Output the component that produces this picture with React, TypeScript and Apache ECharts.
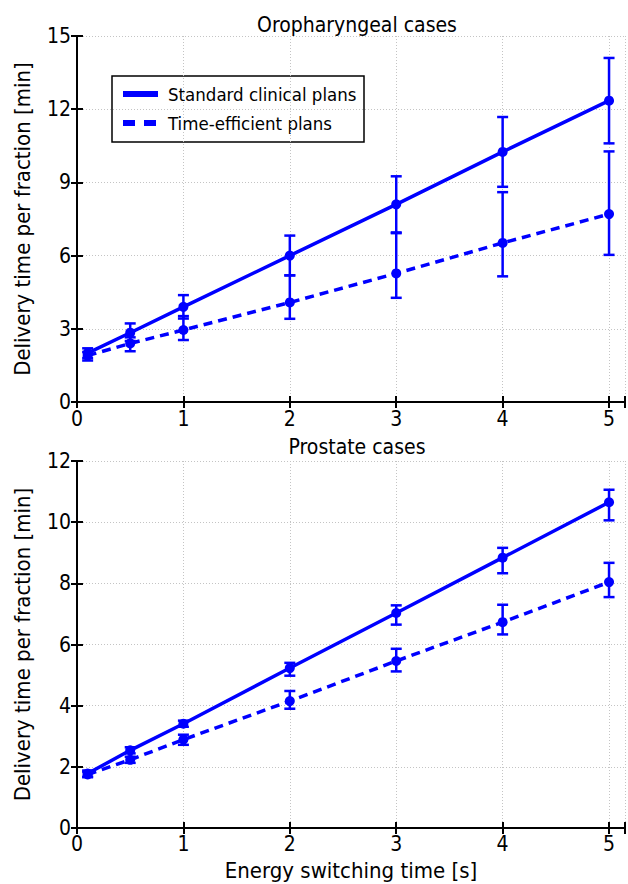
import React, { useEffect, useRef } from "react";
import * as echarts from "echarts";

const xVals = [0.1, 0.5, 1, 2, 3, 4, 5];

const oroStdMean = [2.0, 2.84, 3.9, 6.0, 8.1, 10.25, 12.35];
const oroStdLow = [1.8, 2.5, 3.42, 5.19, 6.95, 8.82, 10.6];
const oroStdHigh = [2.2, 3.22, 4.38, 6.82, 9.25, 11.68, 14.1];
const oroEffMean = [1.9, 2.4, 2.95, 4.08, 5.27, 6.52, 7.7];
const oroEffLow = [1.7, 2.08, 2.54, 3.41, 4.27, 5.15, 6.03];
const oroEffHigh = [2.05, 2.65, 3.52, 5.19, 6.92, 8.6, 10.27];

const prosStdMean = [1.78, 2.54, 3.41, 5.23, 7.03, 8.84, 10.65];
const prosStdLow = [1.68, 2.44, 3.31, 4.98, 6.65, 8.33, 10.06];
const prosStdHigh = [1.88, 2.64, 3.51, 5.4, 7.28, 9.16, 11.06];
const prosEffMean = [1.75, 2.23, 2.89, 4.15, 5.46, 6.73, 8.04];
const prosEffLow = [1.66, 2.13, 2.72, 3.9, 5.12, 6.33, 7.55];
const prosEffHigh = [1.84, 2.33, 3.05, 4.48, 5.86, 7.3, 8.67];

const titles = ["Oropharyngeal cases", "Prostate cases"];
const seriesNames = ["Standard clinical plans", "Time-efficient plans"];
const yName = "Delivery time per fraction [min]";
const xName = "Energy switching time [s]";

const BLUE = "#0000ff";
const FONT = "'DejaVu Sans Condensed', 'Liberation Sans Narrow', 'DejaVu Sans', sans-serif";
const FS_TICK = 21;
const FS_NAME = 22;
const FS_TITLE = 21;
const FS_LEGEND = 18.5;

const pairs = (ys: number[]) => xVals.map((x, i) => [x, ys[i]]);
const triples = (lo: number[], hi: number[]) => xVals.map((x, i) => [x, lo[i], hi[i]]);

const errRender = (params: any, api: any) => {
  const x = api.value(0);
  const pLo = api.coord([x, api.value(1)]);
  const pHi = api.coord([x, api.value(2)]);
  const hw = 5.5;
  const style = { stroke: BLUE, lineWidth: 2.5, fill: "none" };
  return {
    type: "group",
    children: [
      { type: "line", shape: { x1: pLo[0], y1: pLo[1], x2: pHi[0], y2: pHi[1] }, style },
      { type: "line", shape: { x1: pLo[0] - hw, y1: pLo[1], x2: pLo[0] + hw, y2: pLo[1] }, style },
      { type: "line", shape: { x1: pHi[0] - hw, y1: pHi[1], x2: pHi[0] + hw, y2: pHi[1] }, style },
    ],
  };
};

export default function App() {
  const ref = useRef<HTMLDivElement>(null);
  useEffect(() => {
    if (!ref.current) return;
    const chart = echarts.init(ref.current, undefined, { renderer: "svg" });
    const XMAX = 5.15;
    const axisLine = { show: true, lineStyle: { color: "#000", width: 2 } };
    const tick = { show: true, inside: true, length: 6, lineStyle: { color: "#000", width: 2 } };
    const split = { show: true, lineStyle: { color: "#c4c4c4", width: 1, type: [1, 2] as any } };
    const lab = (margin: number) => ({
      show: true,
      color: "#000",
      fontSize: FS_TICK,
      fontFamily: FONT,
      margin,
      formatter: (v: number) => (Number.isInteger(v) ? String(v) : ""),
    });
    const nameStyle = { fontSize: FS_NAME, fontFamily: FONT, color: "#000" };
    const mkX = (gi: number, bottom: boolean, name?: string) => ({
      type: "value",
      gridIndex: gi,
      position: bottom ? "bottom" : "top",
      min: 0,
      max: XMAX,
      interval: 1,
      axisLine,
      axisTick: tick,
      splitLine: bottom ? split : { show: false },
      axisLabel: bottom ? lab(gi === 0 ? 6 : 5) : { show: false },
      name: name || "",
      nameLocation: "middle",
      nameGap: 31,
      nameTextStyle: nameStyle,
    });
    const mkY = (gi: number, left: boolean, max: number, interval: number) => ({
      type: "value",
      gridIndex: gi,
      position: left ? "left" : "right",
      min: 0,
      max,
      interval,
      axisLine,
      axisTick: tick,
      splitLine: left ? split : { show: false },
      axisLabel: left ? lab(6) : { show: false },
      name: left ? yName : "",
      nameLocation: "middle",
      nameGap: 44,
      nameTextStyle: nameStyle,
    });
    const lineSeries = (name: string, data: number[], xi: number, yi: number, dashed: boolean) => ({
      type: "line",
      name,
      xAxisIndex: xi,
      yAxisIndex: yi,
      data: pairs(data),
      symbol: "circle",
      symbolSize: 10,
      itemStyle: { color: BLUE },
      lineStyle: { color: BLUE, width: 3.5, type: dashed ? [9, 6] : "solid" },
      z: 3,
    });
    const errSeries = (lo: number[], hi: number[], xi: number, yi: number) => ({
      type: "custom",
      xAxisIndex: xi,
      yAxisIndex: yi,
      data: triples(lo, hi),
      encode: { x: 0, y: [1, 2] },
      renderItem: errRender,
      z: 4,
    });
    const legendX0 = 123;
    const legendX1 = 158;
    const titleStyle = { fontSize: FS_TITLE, fontWeight: "normal", fontFamily: FONT, color: "#000" };
    chart.setOption({
      animation: false,
      backgroundColor: "#fff",
      title: [
        { text: titles[0], left: 352, top: 9, textAlign: "center", textStyle: titleStyle },
        { text: titles[1], left: 352, top: 431, textAlign: "center", textStyle: titleStyle },
      ],
      grid: [
        { left: 77, top: 36, width: 551.6, height: 366, show: false },
        { left: 77, top: 461, width: 551.6, height: 367, show: false },
      ],
      xAxis: [mkX(0, true), mkX(0, false), mkX(1, true, xName), mkX(1, false)],
      yAxis: [mkY(0, true, 15, 3), mkY(0, false, 15, 3), mkY(1, true, 12, 2), mkY(1, false, 12, 2)],
      series: [
        lineSeries(seriesNames[0], oroStdMean, 0, 0, false),
        lineSeries(seriesNames[1], oroEffMean, 0, 0, true),
        errSeries(oroStdLow, oroStdHigh, 0, 0),
        errSeries(oroEffLow, oroEffHigh, 0, 0),
        lineSeries(seriesNames[0], prosStdMean, 2, 2, false),
        lineSeries(seriesNames[1], prosEffMean, 2, 2, true),
        errSeries(prosStdLow, prosStdHigh, 2, 2),
        errSeries(prosEffLow, prosEffHigh, 2, 2),
      ],
      graphic: [
        {
          type: "group",
          z: 100,
          children: [
            { type: "rect", shape: { x: 112, y: 76, width: 252, height: 66 }, style: { fill: "#fff", stroke: "#000", lineWidth: 1.5 } },
            { type: "line", shape: { x1: legendX0, y1: 94, x2: legendX1, y2: 94 }, style: { stroke: BLUE, lineWidth: 6 } },
            { type: "line", shape: { x1: legendX0, y1: 123, x2: legendX1, y2: 123 }, style: { stroke: BLUE, lineWidth: 6, lineDash: [12, 9] } },
            { type: "text", x: 168, y: 94, style: { text: seriesNames[0], fontSize: FS_LEGEND, fontFamily: FONT, fill: "#000", verticalAlign: "middle", align: "left" } },
            { type: "text", x: 168, y: 123, style: { text: seriesNames[1], fontSize: FS_LEGEND, fontFamily: FONT, fill: "#000", verticalAlign: "middle", align: "left" } },
          ],
        },
      ],
    });
    return () => chart.dispose();
  }, []);
  return <div ref={ref} style={{ position: "absolute", left: 0, top: 0, width: 628, height: 884 }} />;
}
